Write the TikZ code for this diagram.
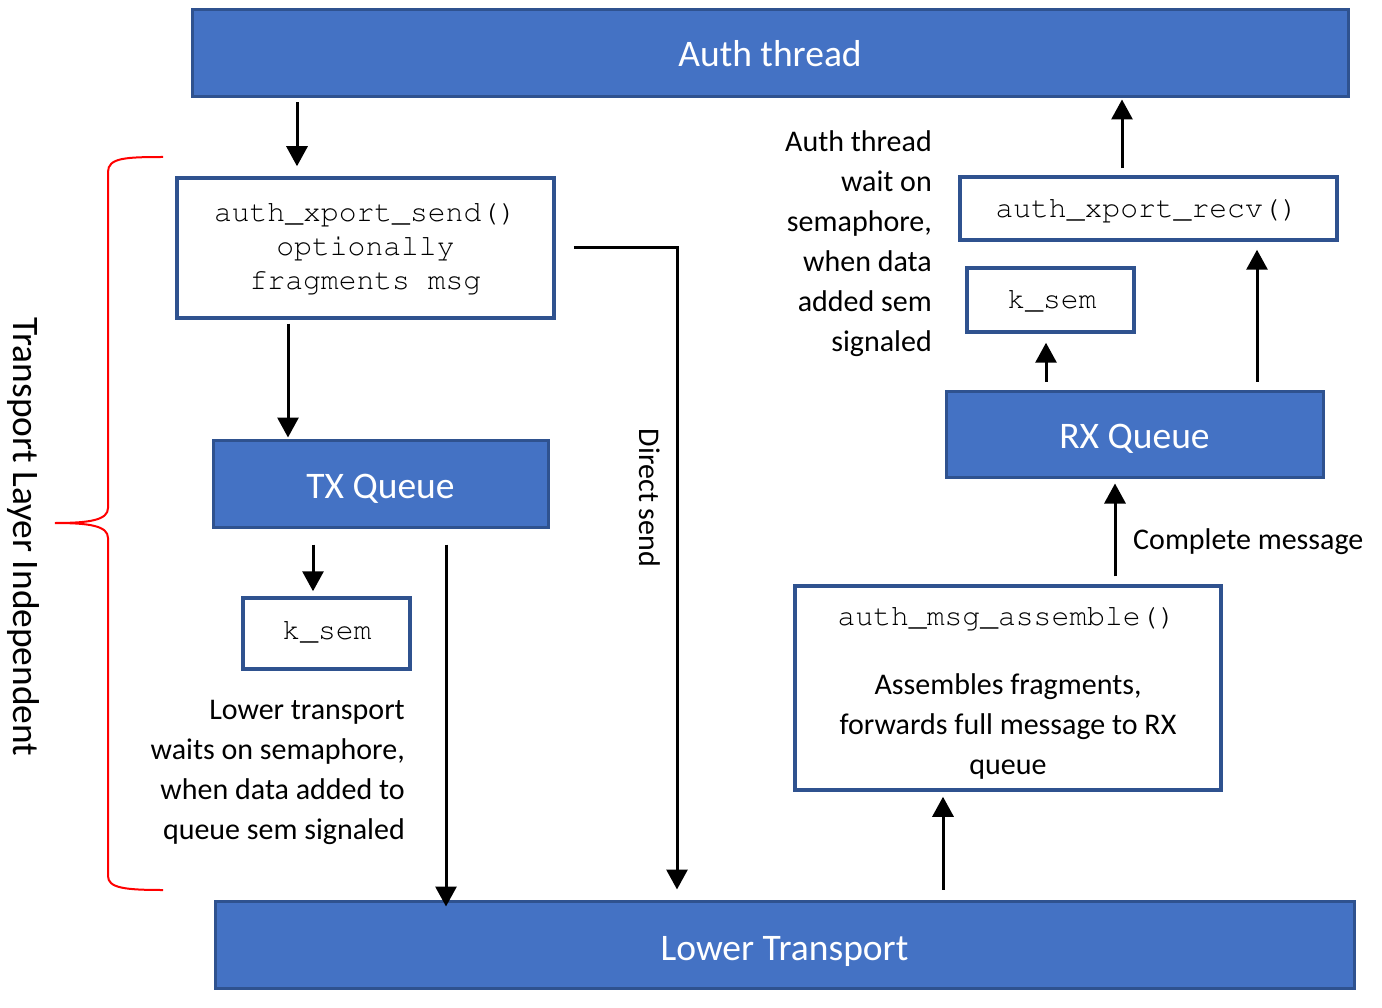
\documentclass[tikz,border=0pt]{standalone}
\usepackage{fontspec}
\usepackage[T1,TU]{fontenc}
\setmainfont{Carlito}
\newcommand{\monof}{\fontencoding{T1}\fontfamily{pcr}\selectfont}
\usetikzlibrary{arrows.meta}
\definecolor{boxblue}{HTML}{4472C4}
\definecolor{boxedge}{HTML}{2F528F}
\begin{document}
\begin{tikzpicture}[x=1pt,y=-1pt,
 bluebox/.style={draw=boxedge, fill=boxblue, line width=3pt, inner sep=0pt},
 title/.style={text=white, font=\fontsize{37.5}{40}\selectfont, inner sep=0pt},
 whitebox/.style={draw=boxedge, fill=white, line width=3.5pt, inner sep=0pt},
 code/.style={font=\monof\fontsize{29.7}{34}\selectfont, align=center, inner sep=0pt},
 body/.style={font=\fontsize{30}{40}\selectfont, inner sep=0pt},
 arr/.style={line width=3pt, -{Triangle[length=20pt,width=21pt]}},
 brace/.style={draw=red, line width=2pt},
]
\useasboundingbox (0,0) rectangle (1382,1008);
\fill[white] (0,0) rectangle (1382,1008);

% boxes
\node[bluebox, minimum width=1156pt, minimum height=87pt] (auth) at (770,53.5) {};
\node[whitebox, minimum width=377pt, minimum height=140pt] (send) at (365.5,248) {};
\node[bluebox, minimum width=335pt, minimum height=87pt] (tx) at (380.5,483.5) {};
\node[whitebox, minimum width=167pt, minimum height=71pt] (ksemL) at (326.5,633.5) {};
\node[bluebox, minimum width=1139pt, minimum height=87pt] (lower) at (784.5,944.5) {};
\node[whitebox, minimum width=426pt, minimum height=204pt] (asm) at (1008,688) {};
\node[bluebox, minimum width=377pt, minimum height=86pt] (rx) at (1134.5,434) {};
\node[whitebox, minimum width=167pt, minimum height=64pt] (ksemR) at (1050.5,300) {};
\node[whitebox, minimum width=377pt, minimum height=63pt] (recv) at (1148.5,208.5) {};

% box texts
\node[title] (authtxt) at (770,54) {Auth thread};
\node[title] (txtxt) at (380.5,489) {TX Queue};
\node[title] (rxtxt) at (1134.5,438.5) {RX Queue};
\node[title] (lowertxt) at (784.5,951) {Lower Transport};
\node[code] (sendtxt) at (365.5,248) {auth\_xport\_send()\\optionally\\fragments msg};
\node[code] (ksemLtxt) at (327,632) {k\_sem};
\node[code] (asmtxt) at (1007,618) {auth\_msg\_assemble()};
\node[body, align=center] (asmdesc) at (1008,726) {Assembles fragments,\\forwards full message to RX\\queue};
\node[code] (ksemRtxt) at (1052,301) {k\_sem};
\node[code] (recvtxt) at (1147,210) {auth\_xport\_recv()};

% free texts
\node[body, align=right, anchor=east] (lowernote) at (405,772) {Lower transport\\waits on semaphore,\\when data added to\\queue sem signaled};
\node[body, align=right, anchor=east] (authnote) at (932,243.5) {Auth thread\\wait on\\semaphore,\\when data\\added sem\\signaled};
\node[body, anchor=west] (complete) at (1133,542) {Complete message};
\node[body, rotate=-90] (direct) at (650,498) {Direct send};
\node[font=\fontsize{37.4}{40}\selectfont, inner sep=0pt, rotate=-90] (tli) at (23,537) {Transport Layer Independent};

% x positions of connectors
\coordinate (xa) at (297,0);
\coordinate (xb) at (288,0);
\coordinate (xc) at (313,0);
\coordinate (xd) at (446,0);
\coordinate (xe) at (677,0);
\coordinate (xf) at (943,0);
\coordinate (xg) at (1115,0);
\coordinate (xh) at (1046,0);
\coordinate (xi) at (1257,0);
\coordinate (xj) at (1122,0);

% connectors
\draw[arr] ([yshift=-4pt]auth.south -| xa) -- ([yshift=10pt]send.north -| xa);
\draw[arr] ([yshift=-4pt]send.south -| xb) -- ([yshift=1pt]tx.north -| xb);
\draw[arr] ([yshift=-16pt]tx.south -| xc) -- ([yshift=5pt]ksemL.north -| xc);
\draw[arr] ([yshift=-16pt]tx.south -| xd) -- ([yshift=-7pt]lower.north -| xd);
\draw[arr] ([xshift=18pt]send.east) -| ([yshift=10pt]lower.north -| xe);
\draw[arr] ([yshift=10pt]lower.north -| xf) -- ([yshift=-5pt]asm.south -| xf);
\draw[arr] ([yshift=8pt]asm.north -| xg) -- ([yshift=-5pt]rx.south -| xg);
\draw[arr] ([yshift=8pt]rx.north -| xh) -- ([yshift=-9pt]ksemR.south -| xh);
\draw[arr] ([yshift=8pt]rx.north -| xi) -- ([yshift=-8pt]recv.south -| xi);
\draw[arr] ([yshift=7pt]recv.north -| xj) -- ([yshift=-1pt]auth.south -| xj);

% brace
\draw[brace] (163,157) .. controls (125,157) and (108,158) .. (108,172) -- (108,508)
  .. controls (108,520) and (90,523) .. (55,523)
  .. controls (90,523) and (108,526) .. (108,538) -- (108,876)
  .. controls (108,888) and (125,890) .. (163,890);
\end{tikzpicture}
\end{document}
